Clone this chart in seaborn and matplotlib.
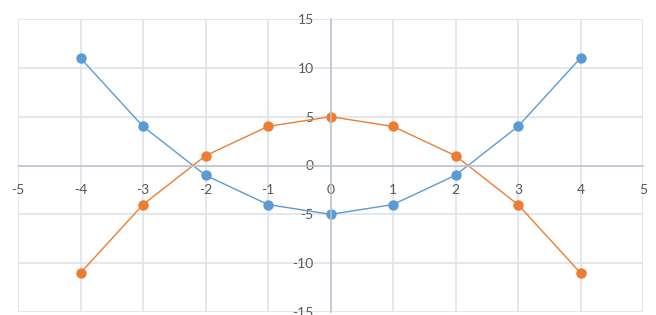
import numpy as np
import pandas as pd
import seaborn as sns
import matplotlib.pyplot as plt

x_vals = [-4, -3, -2, -1, 0, 1, 2, 3, 4]
blue_vals = [11, 4, -1, -4, -5, -4, -1, 4, 11]
orange_vals = [-11, -4, 1, 4, 5, 4, 1, -4, -11]
x_ticks = [-5, -4, -3, -2, -1, 0, 1, 2, 3, 4, 5]
y_ticks = [-15, -10, -5, 0, 5, 10, 15]

sns.set_style("white")
plt.rcParams['font.family'] = ['Lato', 'DejaVu Sans']
plt.rcParams['axes.unicode_minus'] = False

df = pd.DataFrame({
    'x': x_vals * 2,
    'y': blue_vals + orange_vals,
    'series': ['blue'] * len(x_vals) + ['orange'] * len(x_vals),
})

fig = plt.figure(figsize=(6.56, 3.15), dpi=100)
ax = fig.add_axes([18 / 656, 1 - 312 / 315, (643 - 18) / 656, (312 - 19) / 315])

sns.lineplot(data=df, x='x', y='y', hue='series', sort=False,
             palette={'blue': '#5b9bd5', 'orange': '#ed7d31'},
             marker='o', markersize=7.5, markeredgewidth=0, linewidth=1.0,
             legend=False, ax=ax)

ax.set_xlim(-5, 5)
ax.set_ylim(-15, 15)
ax.set_xticks(x_ticks)
ax.set_yticks(y_ticks)
ax.grid(True, color='#dde1e8', linewidth=1.1)
ax.set_axisbelow(True)

for side in ['top', 'right']:
    ax.spines[side].set_visible(False)
ax.spines['left'].set_position(('data', 0))
ax.spines['bottom'].set_position(('data', 0))
ax.spines['left'].set_color('#bcc3cf')
ax.spines['bottom'].set_color('#bcc3cf')
ax.spines['left'].set_linewidth(1.1)
ax.spines['bottom'].set_linewidth(1.1)

ax.tick_params(axis='both', length=0, labelsize=10, labelcolor='#595959')
ax.tick_params(axis='x', pad=13)
ax.tick_params(axis='y', pad=12)
ax.set_xlabel('')
ax.set_ylabel('')

fig.savefig('out.png', dpi=100)
